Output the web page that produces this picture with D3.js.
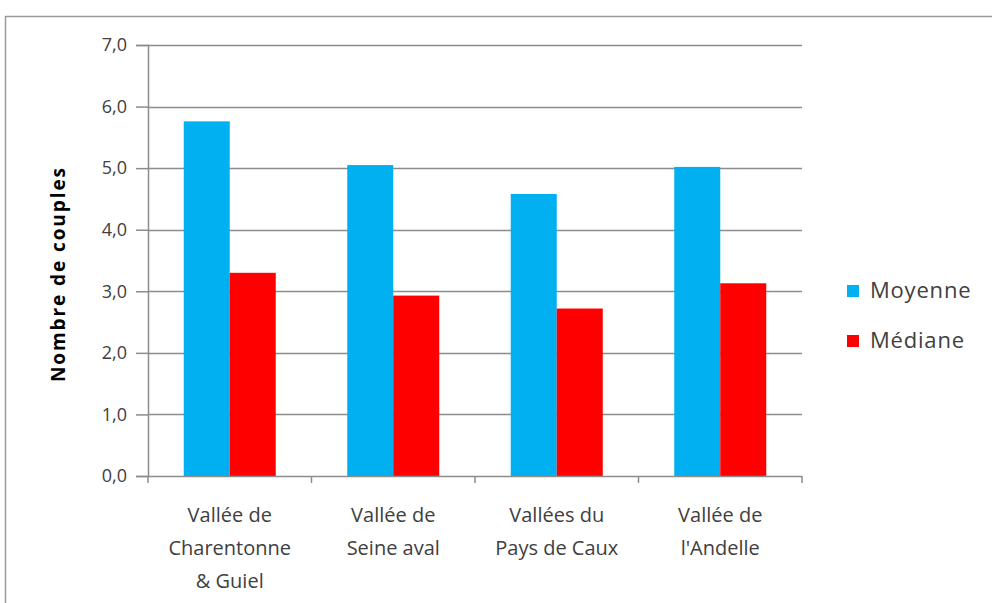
<!DOCTYPE html>
<html>
<head>
<meta charset="utf-8">
<script src="https://cdn.jsdelivr.net/npm/d3@7"></script>
<style>
  body { margin: 0; background: #fff; }
  svg { display: block; font-family: "Open Sans", "Noto Sans", sans-serif; }
</style>
</head>
<body>
<svg id="chart" width="992" height="603"></svg>
<script>
const categories = [
  ["Vallée de", "Charentonne", "& Guiel"],
  ["Vallée de", "Seine aval"],
  ["Vallées du", "Pays de Caux"],
  ["Vallée de", "l'Andelle"]
];
const seriesNames = ["Moyenne", "Médiane"];
const moyenne = [5.76, 5.05, 4.58, 5.02];
const mediane = [3.30, 2.93, 2.72, 3.13];
const yTicks = [0, 1, 2, 3, 4, 5, 6, 7];
const colors = ["#00B0F0", "#FF0000"];
const yTitle = "Nombre de couples";

const svg = d3.select("#chart");
const plotLeft = 148, plotRight = 802, plotTop = 45, plotBottom = 476;

// outer frame
svg.append("rect").attr("x", 5.5).attr("y", 16.5).attr("width", 1000).attr("height", 700)
  .attr("fill", "#fff").attr("stroke", "#9a9a9a").attr("stroke-width", 1.5);

const x0 = d3.scaleBand().domain(d3.range(categories.length)).range([plotLeft, plotRight]).paddingInner(0).paddingOuter(0);
const x1 = d3.scaleBand().domain(seriesNames).range([0, x0.bandwidth()]).paddingInner(0).paddingOuter(0.777);
const y = d3.scaleLinear().domain([0, 7]).range([plotBottom, plotTop]);

// gridlines
svg.append("g").selectAll("line").data(yTicks.filter(d => d > 0)).join("line")
  .attr("x1", plotLeft).attr("x2", plotRight)
  .attr("y1", d => Math.round(y(d)) + 0.5).attr("y2", d => Math.round(y(d)) + 0.5)
  .attr("stroke", "#8c8c8c").attr("stroke-width", 1.5);

// y axis
const yAxis = d3.axisLeft(y).tickValues(yTicks).tickSize(12).tickPadding(9)
  .tickFormat(d => d3.format(".1f")(d).replace(".", ","));
const gy = svg.append("g").attr("transform", `translate(${plotLeft},0)`).call(yAxis);
gy.select(".domain").attr("stroke", "#8c8c8c").attr("stroke-width", 1.5);
gy.selectAll(".tick line").attr("stroke", "#8c8c8c").attr("stroke-width", 1.5);
gy.selectAll(".tick text").attr("fill", "#404040").style("font-size", "18px")
  .style("font-family", "'Open Sans', sans-serif");

// bars
const data = categories.map((c, i) => ({ i, vals: [moyenne[i], mediane[i]] }));
const groups = svg.append("g").selectAll("g").data(data).join("g")
  .attr("transform", d => `translate(${x0(d.i)},0)`);
groups.selectAll("rect").data(d => d.vals.map((v, k) => ({ k, v }))).join("rect")
  .attr("x", d => x1(seriesNames[d.k]))
  .attr("width", x1.bandwidth())
  .attr("y", d => y(d.v))
  .attr("height", d => y(0) - y(d.v))
  .attr("fill", d => colors[d.k]);

// x axis
const xBounds = d3.range(categories.length + 1).map(i => plotLeft + i * x0.step());
const gx = svg.append("g");
gx.append("line").attr("x1", plotLeft).attr("x2", plotRight).attr("y1", plotBottom + 0.5).attr("y2", plotBottom + 0.5)
  .attr("stroke", "#8c8c8c").attr("stroke-width", 1.5);
gx.selectAll("line.tk").data(xBounds).join("line").attr("class", "tk")
  .attr("x1", d => d).attr("x2", d => d).attr("y1", plotBottom).attr("y2", plotBottom + 7)
  .attr("stroke", "#8c8c8c").attr("stroke-width", 1.5);
const labels = gx.selectAll("text").data(categories).join("text")
  .attr("text-anchor", "middle").attr("fill", "#404040")
  .style("font-size", "20px")
  .attr("x", (d, i) => x0(i) + x0.bandwidth() / 2)
  .attr("y", 522);
labels.selectAll("tspan").data(d => d).join("tspan")
  .attr("x", function() { return d3.select(this.parentNode).attr("x"); })
  .attr("dy", (d, j) => j === 0 ? 0 : 33)
  .text(d => d);

// y title
svg.append("text")
  .attr("transform", "translate(65,275) rotate(-90)")
  .attr("text-anchor", "middle").attr("fill", "#000")
  .attr("textLength", 214).attr("lengthAdjust", "spacing")
  .style("font-size", "19px").style("font-weight", "bold")
  .text(yTitle);

// legend
const leg = svg.append("g").selectAll("g").data(seriesNames).join("g")
  .attr("transform", (d, i) => `translate(847,${285 + i * 50})`);
leg.append("rect").attr("width", 12).attr("height", 12).attr("fill", (d, i) => colors[i]);
leg.append("text").attr("x", 23).attr("y", 13).attr("fill", "#404040")
  .style("font-size", "22px").style("letter-spacing", "0.8px").text(d => d);
</script>
</body>
</html>
